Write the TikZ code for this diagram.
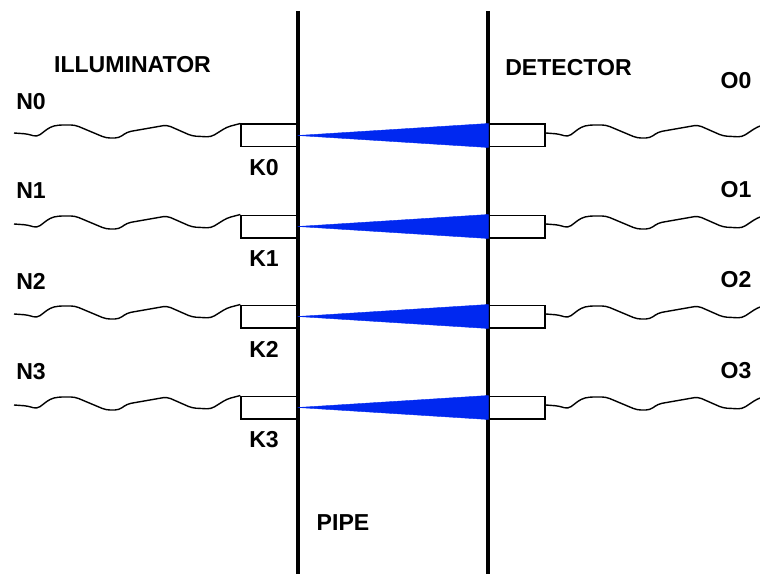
\documentclass[tikz,border=0pt]{standalone}
\usepackage{fontspec}
\setmainfont{Liberation Sans}
\usepackage{xcolor}
\usepackage{tikz}
\usetikzlibrary{calc,positioning}
\definecolor{beamblue}{RGB}{0,40,240}
\tikzset{
  pipewall/.style={line width=3pt,black},
  portbox/.style={draw,line width=1pt,fill=white,minimum width=42pt,minimum height=17pt,inner sep=0pt},
  fibre/.style={line width=1.05pt,rounded corners=3pt},
  beam/.style={fill=beamblue,draw=beamblue,line width=0.3pt},
  lab/.style={font=\bfseries\fontsize{17.3}{20}\selectfont,inner sep=0pt}
}
\begin{document}
\begin{tikzpicture}[x=0.75pt,y=-0.75pt]
\useasboundingbox (0,0) rectangle (760,574);
  %pipe walls
  \coordinate (wl1) at (298,11); \coordinate (wl2) at (298,574);
  \coordinate (wr1) at (488,11); \coordinate (wr2) at (488,574);
  \draw [pipewall] (wl1) -- (wl2);
  \draw [pipewall] (wr1) -- (wr2);
  \node [lab] (illum) at (132.5,65) {ILLUMINATOR};
  \node [lab] (detect) at (568.5,68) {DETECTOR};
  \node [lab] (pipe) at (343,523) {PIPE};
  \foreach \n/\dy/\ny/\oy in {0/0/102/81,1/91/191/190,2/181/281/280,3/272/372/371} {
    \node [portbox] (kbox\n) at (269,135.5+\dy) {};
    \node [portbox] (obox\n) at (517,135.5+\dy) {};
    \node [lab] (k\n) at (264,168+\dy) {K\n};
    \node [lab] (n\n) at (31,\ny) {N\n};
    \node [lab] (o\n) at (736,\oy) {O\n};
    \filldraw [beam] (kbox\n.east) -- (obox\n.north west) -- (obox\n.south west) -- cycle;
    % fibres
    \coordinate (fin\n) at (14,133+\dy);
    \coordinate (fout\n) at (760,126+\dy);
    \draw [fibre] (fin\n) -- (28,134+\dy) -- (37,137+\dy) -- (50,127+\dy) -- (58,125+\dy) -- (75,125+\dy) -- (106,138+\dy) -- (119,138+\dy) -- (127,132+\dy) -- (167,125+\dy) -- (192,136+\dy) -- (211,137+\dy) -- (227,127+\dy) -- (kbox\n.north west);
    \draw [fibre] ($(obox\n.east)+(0,-2.5)$) -- (559,134+\dy) -- (568,137+\dy) -- (581,127+\dy) -- (589,125+\dy) -- (606,125+\dy) -- (637,138+\dy) -- (650,138+\dy) -- (658,132+\dy) -- (698,125+\dy) -- (723,136+\dy) -- (742,137+\dy) -- (757,127+\dy) -- (fout\n);
  }
\end{tikzpicture}
\end{document}
